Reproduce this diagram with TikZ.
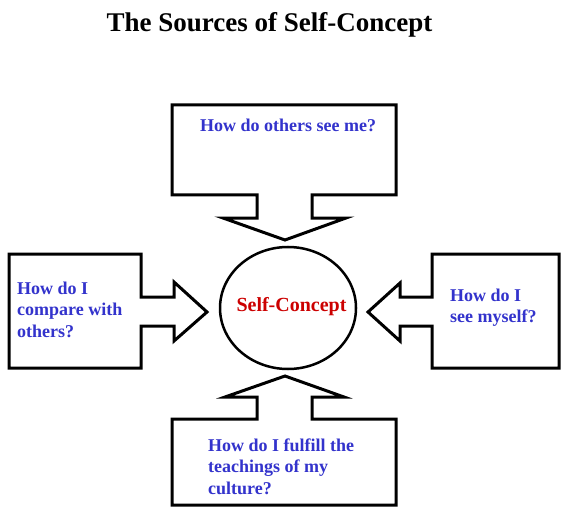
\documentclass[tikz,border=0pt]{standalone}
\usepackage{fontspec}
\setmainfont{Liberation Serif}
\usetikzlibrary{shapes.geometric}
\definecolor{qblue}{HTML}{3333CC}
\definecolor{qred}{HTML}{CC0000}
\tikzset{
  callout/.style={draw=black, line width=3bp, line join=miter, fill=white},
  qtext/.style={text=qblue, font=\bfseries\fontsize{18bp}{21.5bp}\selectfont, inner sep=0pt, anchor=base west},
  coretext/.style={text=qred, font=\bfseries\fontsize{20bp}{24bp}\selectfont, inner sep=0pt, anchor=base},
  titletext/.style={text=black, font=\bfseries\fontsize{27bp}{32bp}\selectfont, inner sep=0pt, anchor=base}
}
\newcommand{\qlines}[1]{\vtop{\baselineskip=21.5bp #1}}
\begin{document}
\begin{tikzpicture}[x=1bp,y=-1bp]
\useasboundingbox (0,0) rectangle (570,516);
% title
\node[titletext] (title) at (269.5,32) {The Sources of Self-Concept};
% top callout
\draw[callout] (172,105) -- (396,105) -- (396,195) -- (312,195) -- (312,218) -- (346,218)
  -- (285,240) -- (223,218) -- (257,218) -- (257,195) -- (172,195) -- cycle;
% bottom callout
\draw[callout] (172,505) -- (396,505) -- (396,419) -- (312,419) -- (312,397) -- (344,397)
  -- (285,376) -- (225,397) -- (257,397) -- (257,419) -- (172,419) -- cycle;
% left callout
\draw[callout] (9,254) -- (141,254) -- (141,297) -- (174,297) -- (174,282) -- (207,312)
  -- (174,341) -- (174,326) -- (141,326) -- (141,368) -- (9,368) -- cycle;
% right callout
\draw[callout] (559,254) -- (432,254) -- (432,297) -- (400,297) -- (400,283) -- (368,312)
  -- (400,341) -- (400,326) -- (432,326) -- (432,368) -- (559,368) -- cycle;
% core ellipse
\node[draw=black, line width=2.5bp, ellipse, minimum width=136bp, minimum height=122bp, inner sep=0pt] (core) at (288,308) {};
\node[coretext] (coretxt) at (291.5,311) {Self-Concept};
% texts
\node[qtext] (toptxt) at (200,132) {How do others see me?};
\node[qtext] (lefttxt) at (17,294) {\qlines{\hbox{How do I}\hbox{compare with}\hbox{others?}}};
\node[qtext] (righttxt) at (450,301) {\qlines{\hbox{How do I}\hbox{see myself?}}};
\node[qtext] (bottxt) at (208,451) {\qlines{\hbox{How do I fulfill the}\hbox{teachings of my}\hbox{culture?}}};
\end{tikzpicture}
\end{document}
